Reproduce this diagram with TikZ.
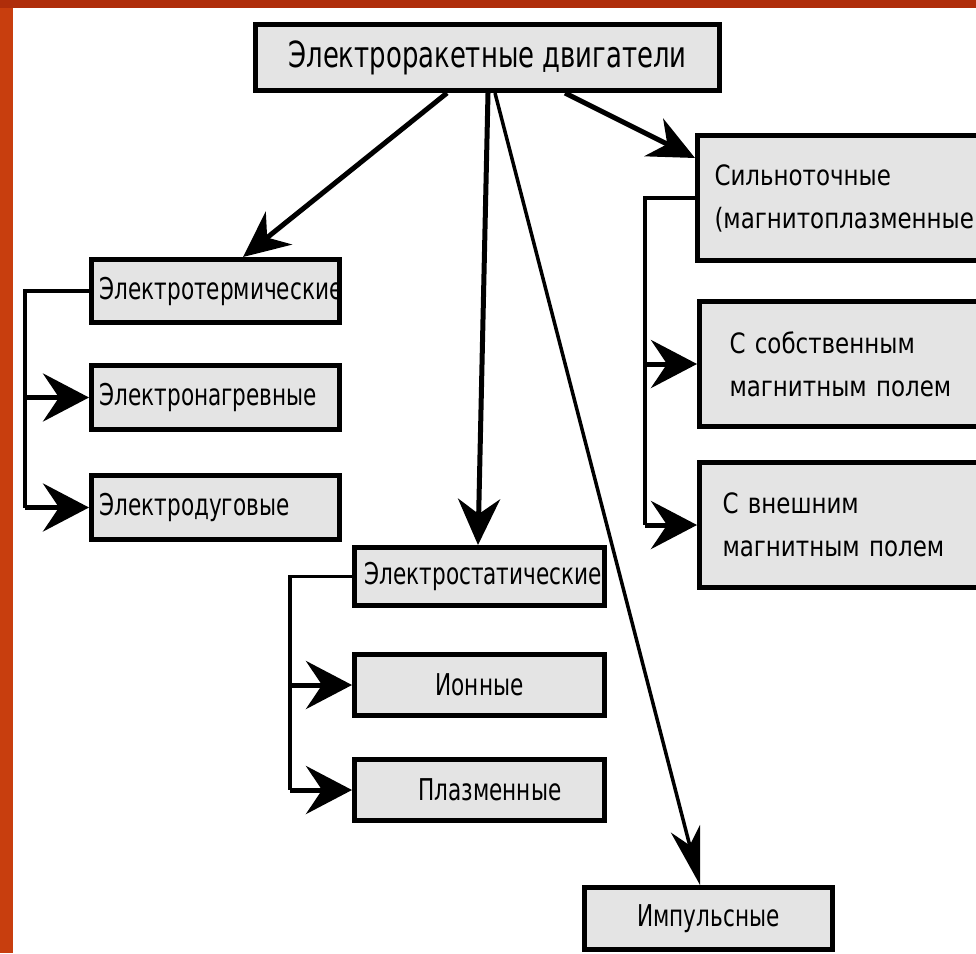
\documentclass[tikz,border=0pt]{standalone}
\usepackage{fontspec}
\setmainfont{DejaVu Sans}[FakeStretch=0.72]
\newfontfamily\rfont{DejaVu Sans}[FakeStretch=0.82]
\usetikzlibrary{arrows.meta,calc}
\definecolor{boxgray}{RGB}{228,228,228}
\definecolor{frameor}{RGB}{200,62,14}
\definecolor{frametop}{RGB}{175,45,10}
\begin{document}
\begin{tikzpicture}[x=1pt,y=-1pt,
  box/.style={draw=black, line width=5pt, fill=boxgray, inner sep=0pt, anchor=north west,
    font=\fontsize{30}{34}\selectfont},
  rbox/.style={box, align=left, minimum height=125pt, font=\rfont\fontsize{28}{43}\selectfont},
  arr/.style={line width=5pt, -{Stealth[length=46pt,width=42pt,inset=15pt]}},
  thinarr/.style={line width=3.5pt, -{Stealth[length=58pt,width=30pt,inset=17pt]}},
  trunk/.style={line width=3.5pt},
  sidearr/.style={line width=5pt, -{Stealth[length=46pt,width=48pt,inset=16pt]}}
]
\clip (0,0) rectangle (976,953);
\fill[white] (0,0) rectangle (976,953);
\fill[frameor] (0,0) rectangle (13,953);
\fill[frametop] (0,0) rectangle (976,8);

% boxes
\node[box, minimum width=464pt, minimum height=66pt, font=\fontsize{36}{40}\selectfont] (top) at (253,22) {Электроракетные двигатели};

\node[box, align=left, inner xsep=8pt, text width=232pt, minimum height=63pt] (et) at (89,257) {Электротермические};
\node[box, align=left, inner xsep=8pt, text width=232pt, minimum height=64pt] (en) at (89,363) {Электронагревные};
\node[box, align=left, inner xsep=8pt, text width=232pt, minimum height=64pt] (ed) at (89,473) {Электродуговые};

\node[box, align=left, inner xsep=10pt, text width=230pt, minimum height=58pt] (es) at (352,545) {Электростатические};
\node[box, minimum width=250pt, minimum height=61pt] (ion) at (352,652) {Ионные};
\node[box, align=left, inner xsep=64pt, text width=122pt, minimum height=61pt] (pl) at (352,757) {Плазменные};

\node[box, minimum width=248pt, minimum height=62pt] (imp) at (582,885) {Импульсные};

\node[rbox, inner xsep=17pt, text width=286pt] (sil) at (695,133) {Сильноточные\\(магнитоплазменные};
\node[rbox, inner xsep=30pt, text width=260pt] (sob) at (697,299) {С собственным\\магнитным полем};
\node[rbox, inner xsep=23pt, text width=274pt] (vne) at (697,460) {С внешним\\магнитным полем};

% main arrows
\draw[arr] ($(top.south west)+(194,0)$) -- ($(et.north west)+(154,0)$);
\draw[arr] ($(top.south west)+(312,0)$) -- ($(sil.north west)+(0,25)$);
\draw[arr] ($(top.south west)+(235,0)$) -- ($(es.north west)+(126,0)$);
\draw[thinarr] ($(top.south west)+(242,0)$) -- ($(imp.north west)+(118,0)$);

% trunks
\coordinate (lt) at (25,0);
\coordinate (mt) at (290,0);
\coordinate (rt) at (645,0);

\draw[trunk] (et.west) -| (lt |- ed.west);
\draw[sidearr] (lt |- en.west) -- (en.west);
\draw[sidearr] (lt |- ed.west) -- (ed.west);

\draw[trunk] (es.west) -| (mt |- pl.west);
\draw[sidearr] (mt |- ion.west) -- (ion.west);
\draw[sidearr] (mt |- pl.west) -- (pl.west);

\draw[trunk] (sil.west) -| (rt |- vne.west);
\draw[sidearr] (rt |- sob.west) -- (sob.west);
\draw[sidearr] (rt |- vne.west) -- (vne.west);
\end{tikzpicture}
\end{document}
